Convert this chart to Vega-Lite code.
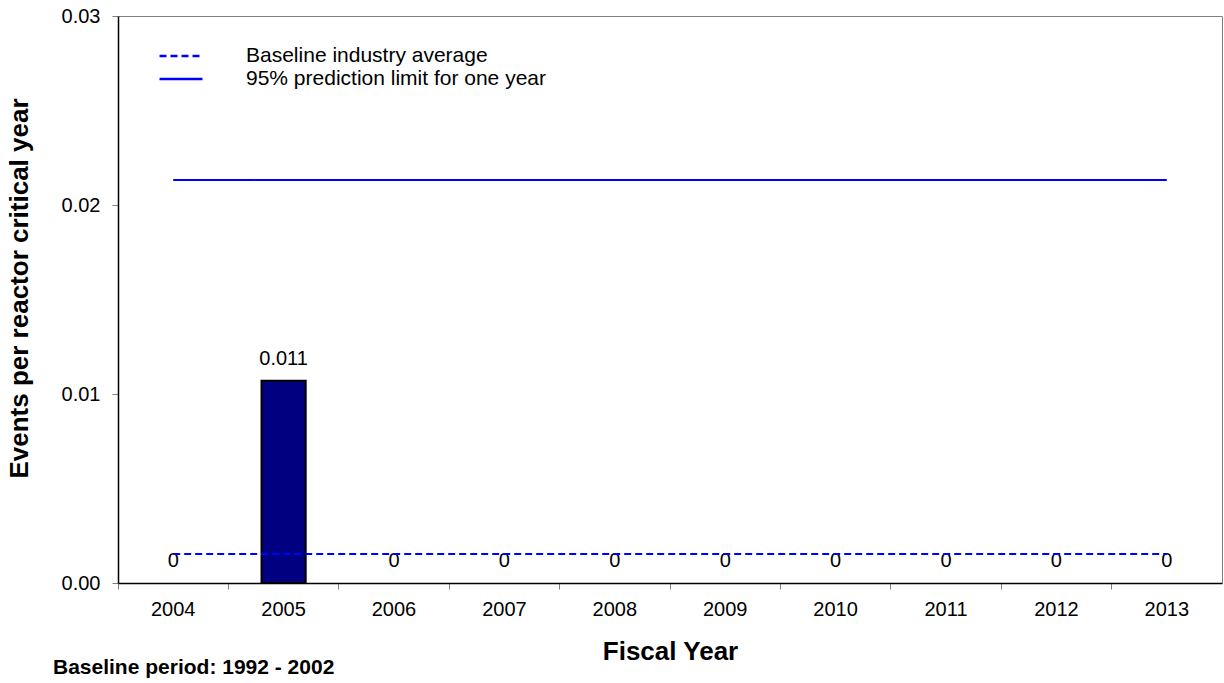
{
  "$schema": "https://vega.github.io/schema/vega-lite/v6.json",
  "width": 1104,
  "height": 567,
  "autosize": "none",
  "padding": {"left": 118, "top": 16, "right": 2, "bottom": 100},
  "background": "white",
  "config": {
    "font": "Liberation Sans",
    "view": {"stroke": "#808080", "strokeWidth": 1},
    "axis": {"labelColor": "black", "titleColor": "black", "domainColor": "black", "domainWidth": 1.5, "tickColor": "#808080", "tickSize": 6, "grid": false}
  },
  "title": {
    "text": "Baseline period:  1992 - 2002",
    "orient": "bottom",
    "anchor": "start",
    "frame": "group",
    "dx": -65,
    "offset": -7,
    "fontSize": 21,
    "fontWeight": "bold",
    "color": "black",
    "font": "Liberation Sans"
  },
  "datasets": {
    "bars": [
      {"year": "2004", "rate": 0},
      {"year": "2005", "rate": 0.0107},
      {"year": "2006", "rate": 0},
      {"year": "2007", "rate": 0},
      {"year": "2008", "rate": 0},
      {"year": "2009", "rate": 0},
      {"year": "2010", "rate": 0},
      {"year": "2011", "rate": 0},
      {"year": "2012", "rate": 0},
      {"year": "2013", "rate": 0}
    ],
    "limits": [
      {"series": "Baseline industry average", "year": "2004", "rate": 0.00153},
      {"series": "Baseline industry average", "year": "2013", "rate": 0.00153},
      {"series": "95% prediction limit for one year", "year": "2004", "rate": 0.02132},
      {"series": "95% prediction limit for one year", "year": "2013", "rate": 0.02132}
    ]
  },
  "encoding": {
    "x": {
      "field": "year",
      "type": "ordinal",
      "scale": {"domain": ["2004","2005","2006","2007","2008","2009","2010","2011","2012","2013"], "paddingInner": 0, "paddingOuter": 0},
      "axis": {"title": "Fiscal Year", "titleFontSize": 26, "titleFontWeight": "bold", "titlePadding": 19, "labelAngle": 0, "labelFontSize": 20, "labelPadding": 10, "bandPosition": 0}
    },
    "y": {
      "field": "rate",
      "type": "quantitative",
      "scale": {"domain": [0, 0.03], "nice": false},
      "axis": {"title": "Events per reactor critical year", "titleFontSize": 26, "titleFontWeight": "bold", "titlePadding": 29, "titleY": 272, "values": [0, 0.01, 0.02, 0.03], "format": ".2f", "labelFontSize": 20, "labelPadding": 12}
    }
  },
  "layer": [
    {
      "data": {"name": "bars"},
      "transform": [{"filter": "datum.rate > 0"}],
      "mark": {"type": "bar", "fill": "#000080", "stroke": "black", "strokeWidth": 2, "width": {"band": 0.4}}
    },
    {
      "data": {"name": "bars"},
      "mark": {"type": "text", "fontSize": 20, "baseline": "alphabetic", "dy": -16, "color": "black"},
      "encoding": {"text": {"field": "rate", "type": "quantitative", "format": ".3~f"}}
    },
    {
      "data": {"name": "limits"},
      "mark": {"type": "line", "color": "#0000FF", "strokeWidth": 2},
      "encoding": {
        "detail": {"field": "series"},
        "strokeDash": {
          "field": "series",
          "type": "nominal",
          "scale": {"domain": ["Baseline industry average", "95% prediction limit for one year"], "range": [[7, 4], [1, 0]]},
          "legend": {
            "title": null,
            "orient": "none",
            "legendX": 40,
            "legendY": 30,
            "symbolType": "stroke",
            "symbolSize": 1849,
            "symbolStrokeColor": "#0000FF",
            "symbolStrokeWidth": 2.5,
            "clipHeight": 20,
            "labelFontSize": 21,
            "labelColor": "black",
            "labelOffset": 42,
            "rowPadding": 2,
            "labelLimit": 500
          }
        }
      }
    }
  ]
}
